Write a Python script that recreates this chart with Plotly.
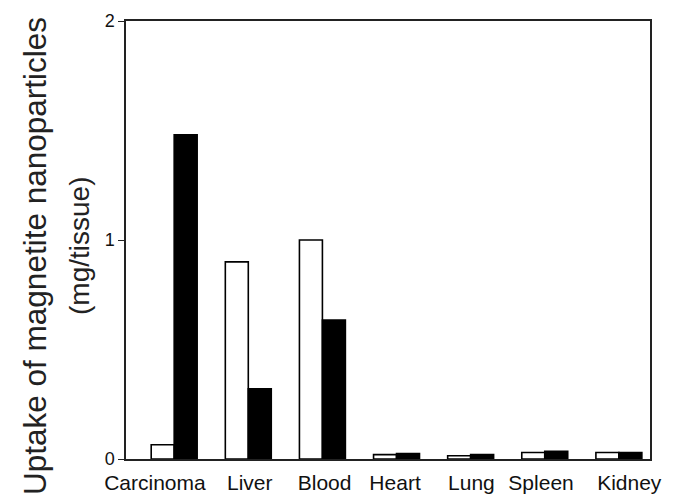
import plotly.graph_objects as go

categories = ["Carcinoma", "Liver", "Blood", "Heart", "Lung", "Spleen", "Kidney"]
white_vals = [0.065, 0.90, 1.00, 0.02, 0.015, 0.03, 0.03]
black_vals = [1.48, 0.32, 0.635, 0.025, 0.02, 0.035, 0.03]
y_ticks = [0, 1, 2]

x = list(range(len(categories)))
# small horizontal offsets of the category labels (layout only)
label_shift = [-0.26, 0.02, 0.03, -0.02, 0.01, -0.05, 0.14]
label_pos = [xi + s for xi, s in zip(x, label_shift)]

fig = go.Figure()
fig.add_trace(go.Bar(x=x, y=white_vals, marker=dict(color="white", line=dict(color="black", width=1.6)),
                     showlegend=False))
fig.add_trace(go.Bar(x=x, y=black_vals, marker=dict(color="black", line=dict(color="black", width=1.6)),
                     showlegend=False))

L, R, T, B = 126, 29, 21, 42
W, H = 679, 501
pw = W - L - R
ph = H - T - B

fig.update_layout(
    width=W, height=H,
    margin=dict(l=L, r=R, t=T, b=B, autoexpand=False),
    plot_bgcolor="white", paper_bgcolor="white",
    barmode="group", bargap=0.38, bargroupgap=0,
    font=dict(family="Liberation Sans, Arial, sans-serif", color="#111"),
    xaxis=dict(range=[-0.65, 6.42], tickvals=label_pos, ticktext=categories, showgrid=False,
               showline=True, linecolor="#222", linewidth=1.5, mirror=True, automargin=False,
               ticks="outside", ticklen=4, tickcolor="rgba(0,0,0,0)",
               tickfont=dict(size=21, color="#111"), zeroline=False),
    yaxis=dict(range=[0, 2], tickvals=y_ticks, showgrid=False, showline=True, linecolor="#222",
               linewidth=1.5, mirror=True, ticks="outside", ticklen=6, tickcolor="#222",
               automargin=False,
               tickfont=dict(size=18, color="#111"), zeroline=False),
)

def px2paper(px):
    return (px - L) / pw

fig.add_annotation(text="Uptake of magnetite nanoparticles", textangle=-90, showarrow=False,
                   xref="paper", yref="paper", x=px2paper(35), y=(H - B - 256) / ph,
                   xanchor="center", yanchor="middle", font=dict(size=31.5, color="#222"))
fig.add_annotation(text="(mg/tissue)", textangle=-90, showarrow=False,
                   xref="paper", yref="paper", x=px2paper(79), y=(H - B - 246) / ph,
                   xanchor="center", yanchor="middle", font=dict(size=28, color="#222"))

fig.write_html("out.html")
